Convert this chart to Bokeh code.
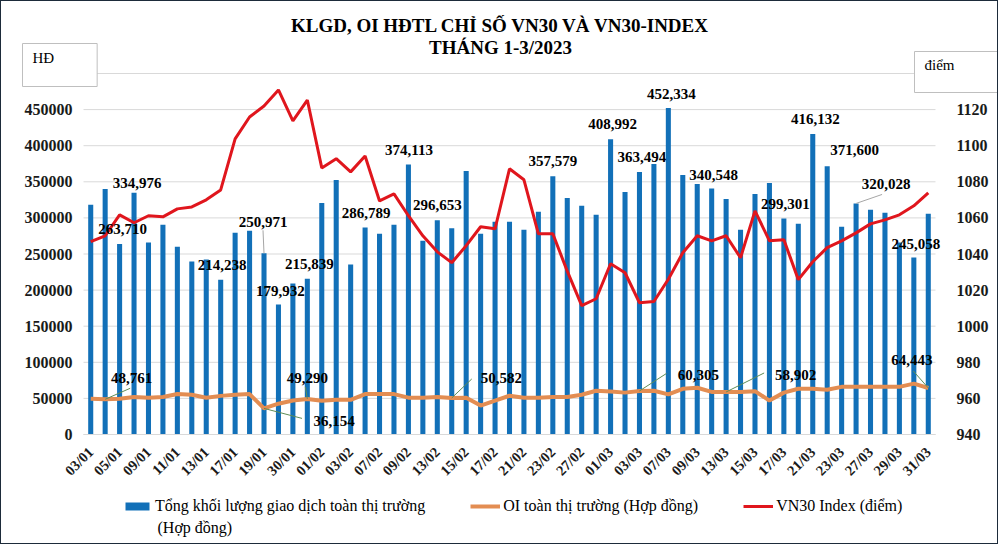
import math
from bokeh.plotting import figure
from bokeh.models import (Range1d, LinearAxis, FixedTicker, ColumnDataSource, Label,
                          Legend, LegendItem, NumeralTickFormatter)
from bokeh.core.properties import value
from bokeh.embed import file_html
from bokeh.resources import INLINE

# ---------------- data ----------------
DATES = ["03/01", "04/01", "05/01", "06/01", "09/01", "10/01", "11/01", "12/01", "13/01", "16/01",
         "17/01", "18/01", "19/01", "27/01", "30/01", "31/01",
         "01/02", "02/02", "03/02", "06/02", "07/02", "08/02", "09/02", "10/02", "13/02", "14/02",
         "15/02", "16/02", "17/02", "20/02", "21/02", "22/02", "23/02", "24/02", "27/02", "28/02",
         "01/03", "02/03", "03/03", "06/03", "07/03", "08/03", "09/03", "10/03", "13/03", "14/03",
         "15/03", "16/03", "17/03", "20/03", "21/03", "22/03", "23/03", "24/03", "27/03", "28/03",
         "29/03", "30/03", "31/03"]

VOLUME = [318100, 340000, 263710, 334976, 265800, 290500, 260000, 239600, 242400, 214238,
          279500, 282300, 250971, 179932, 209300, 215839,
          320800, 352500, 235500, 286789, 278000, 290500, 374113, 268500, 296653, 285500,
          365000, 278000, 294700, 294700, 283700, 308400, 357579, 327700, 316700, 304300,
          408992, 336000, 363494, 374500, 452334, 359400, 347000, 340548, 326300, 283700,
          333200, 348400, 299301, 292000, 416132, 371600, 287800, 320028, 311200, 307000,
          265800, 245058, 305700]

OI = [49500, 48761, 49500, 52000, 51000, 52000, 56000, 55000, 51000, 53500,
      55000, 56000, 36154, 42700, 47000, 49290,
      46800, 48000, 48000, 56000, 56000, 56000, 51000, 51000, 52000, 50582,
      51000, 40000, 47000, 53700, 51000, 51000, 52000, 52000, 55000, 60600,
      59500, 58000, 60305, 60600, 55500, 63300, 64700, 59000, 58902, 59000,
      60000, 47000, 58000, 63300, 63300, 62000, 66000, 66000, 66000, 66000,
      66000, 70500, 64443]

VN30 = [1046.8, 1050.1, 1061.7, 1057.3, 1061.2, 1060.6, 1065.0, 1066.1, 1070.0, 1075.5,
        1103.8, 1115.9, 1122.0, 1130.9, 1113.7, 1125.3,
        1087.7, 1092.8, 1085.5, 1094.3, 1069.4, 1073.3, 1061.2, 1050.1, 1041.2, 1035.2,
        1044.6, 1055.1, 1054.0, 1087.2, 1081.1, 1051.2, 1051.2, 1030.5, 1011.4, 1015.2,
        1034.6, 1029.6, 1013.0, 1013.7, 1026.0, 1040.7, 1050.1, 1047.3, 1050.1, 1037.9,
        1063.9, 1047.3, 1047.9, 1025.8, 1035.7, 1043.5, 1047.3, 1051.7, 1056.7, 1058.9,
        1061.7, 1066.7, 1073.9]

BAR_LABEL_IDX = [2, 3, 9, 12, 13, 15, 19, 22, 24, 32, 36, 38, 40, 43, 48, 50, 51, 53, 57]
OI_LABEL_IDX = [1, 12, 15, 25, 38, 44, 58]

LEFT_TICKS = [0, 50000, 100000, 150000, 200000, 250000, 300000, 350000, 400000, 450000, 500000]
RIGHT_TICKS = [940, 960, 980, 1000, 1020, 1040, 1060, 1080, 1100, 1120, 1140]

TITLE_1 = "KLGD, OI HĐTL CHỈ SỐ VN30 VÀ VN30-INDEX"
TITLE_2 = "THÁNG 1-3/2023"
LEFT_UNIT = "HĐ"
RIGHT_UNIT = "điểm"
SERIES = ["Tổng khối lượng giao dịch toàn thị trường", "OI toàn thị trường (Hợp đồng)",
          "VN30 Index (điểm)"]
SERIES_1_LINE2 = "(Hợp đồng)"

# ---------------- style / layout ----------------
W, H = 998, 544
PA_L, PA_R, PA_T, PA_B = 82, 934, 72, 433      # plot area on the canvas (px)
N = len(DATES)
Y_MAX, VN_MIN, VN_MAX = 500000, 940, 1140
PX_PER_X = (PA_R - PA_L) / N
Y_PER_PX = Y_MAX / (PA_B - PA_T)
VN_PER_PX = (VN_MAX - VN_MIN) / (PA_B - PA_T)

BLUE = "#1270b8"
ORANGE = "#e38d52"
RED = "#e0161d"
GRID = "#d9d9d9"
FONT = "Liberation Serif"

BAR_LABEL_OFF = {2: (3, -15), 3: (3, -10), 9: (1.5, -15), 12: (-1, -31), 13: (2, -14),
                 15: (2, -15), 19: (1, -14), 22: (0.5, -14), 24: (0, -15), 32: (0, -15),
                 36: (2, -15), 38: (2.5, -15), 40: (3, -14), 43: (2, -14), 48: (1.5, -14),
                 50: (2.5, -15), 51: (27.5, -16), 53: (30, -19), 57: (2, -14)}
BAR_LEADERS = {12: (-1, -23), 53: (26, -9)}
OI_LABEL_OFF = {1: (26.5, -21.5), 12: (70, 13), 15: (0, -21), 25: (49.7, -20),
                38: (59, -16), 44: (69.5, -16.7), 58: (-16.5, -27.7)}
OI_LEADERS = {1: (25, -11), 12: (38, 10), 15: (-2, -12), 25: (20, -19),
              38: (27, -17.5), 44: (38, -19), 58: (-15, -17)}

X0, X1 = -0.5, N - 0.5
p = figure(width=W, height=H, output_backend="svg", toolbar_location=None, title_location=None,
           x_range=Range1d(X0 - PA_L / PX_PER_X, X1 + (W - PA_R) / PX_PER_X),
           y_range=Range1d(-(H - PA_B) * Y_PER_PX, Y_MAX + PA_T * Y_PER_PX),
           min_border=0, outline_line_color=None,
           background_fill_color="white", border_fill_color="white")
p.styles = {"border": "1px solid #1d2b3a"}
p.extra_y_ranges = {"vn": Range1d(VN_MIN - (H - PA_B) * VN_PER_PX, VN_MAX + PA_T * VN_PER_PX)}
p.xgrid.visible = False
p.ygrid.visible = False

# axes (fixed at the plot-area edges)
xa = p.xaxis[0]
xa.fixed_location = 0
xa.bounds = (X0, X1)
xa.ticker = FixedTicker(ticks=list(range(0, N, 2)))
xa.major_label_overrides = {i: DATES[i] for i in range(N)}
xa.major_label_orientation = math.pi / 4
xa.axis_line_color = GRID
xa.major_tick_line_color = None
xa.minor_tick_line_color = None
xa.major_label_standoff = 9
xa.major_label_text_font = FONT
xa.major_label_text_font_style = "bold"
xa.major_label_text_font_size = "14.5px"
xa.major_label_text_color = "#1a1a1a"

ya = p.yaxis[0]
ya.fixed_location = X0
ya.bounds = (0, Y_MAX)
ya.ticker = FixedTicker(ticks=LEFT_TICKS)
ya.formatter = NumeralTickFormatter(format="0")
ya.major_label_overrides = {Y_MAX: ""}
ya.axis_line_color = None
ya.major_tick_line_color = None
ya.minor_tick_line_color = None
ya.major_label_standoff = 5
ya.major_label_text_font = FONT
ya.major_label_text_font_style = "bold"
ya.major_label_text_font_size = "16px"
ya.major_label_text_color = "#1a1a1a"

ra = LinearAxis(y_range_name="vn", ticker=FixedTicker(ticks=RIGHT_TICKS), fixed_location=X1,
                bounds=(VN_MIN, VN_MAX))
ra.major_label_overrides = {VN_MAX: ""}
ra.axis_line_color = None
ra.major_tick_line_color = None
ra.minor_tick_line_color = None
ra.major_label_standoff = 15
ra.major_label_text_font = FONT
ra.major_label_text_font_style = "bold"
ra.major_label_text_font_size = "16px"
ra.major_label_text_color = "#1a1a1a"
p.add_layout(ra, "right")

# horizontal gridlines at the left-axis ticks, across the plot area only
p.segment(x0=[X0] * len(LEFT_TICKS), x1=[X1] * len(LEFT_TICKS), y0=LEFT_TICKS, y1=LEFT_TICKS,
          line_color=GRID, line_width=1)

# series
src = ColumnDataSource(dict(x=list(range(N)), vol=VOLUME, oi=OI, vn=VN30))
bars = p.vbar(x="x", top="vol", width=0.35, source=src, fill_color=BLUE, line_color=None)
oi_line = p.line("x", "oi", source=src, line_color=ORANGE, line_width=4)
vn_line = p.line("x", "vn", source=src, y_range_name="vn", line_color=RED, line_width=3)

# leader lines
lx0, ly0, lx1, ly1, lc = [], [], [], [], []
for i, (dx, dy) in BAR_LEADERS.items():
    lx0.append(i); ly0.append(VOLUME[i])
    lx1.append(i + dx / PX_PER_X); ly1.append(VOLUME[i] - dy * Y_PER_PX); lc.append("#a6a6a6")
for i, (dx, dy) in OI_LEADERS.items():
    lx0.append(i); ly0.append(OI[i])
    lx1.append(i + dx / PX_PER_X); ly1.append(OI[i] - dy * Y_PER_PX); lc.append("#5e8c55")
p.segment(x0="x0", y0="y0", x1="x1", y1="y1", line_color="c", line_width=1,
          source=ColumnDataSource(dict(x0=lx0, y0=ly0, x1=lx1, y1=ly1, c=lc)))

# data labels
tx, ty, tt, tdx, tdy = [], [], [], [], []
for i in BAR_LABEL_IDX:
    dx, dy = BAR_LABEL_OFF[i]
    tx.append(i); ty.append(VOLUME[i]); tt.append(f"{VOLUME[i]:,}"); tdx.append(dx); tdy.append(dy)
for i in OI_LABEL_IDX:
    dx, dy = OI_LABEL_OFF[i]
    tx.append(i); ty.append(OI[i]); tt.append(f"{OI[i]:,}"); tdx.append(dx); tdy.append(dy)
p.text(x="x", y="y", text="t", x_offset="dx", y_offset="dy",
       source=ColumnDataSource(dict(x=tx, y=ty, t=tt, dx=tdx, dy=tdy)),
       text_font=value(FONT), text_font_style="bold", text_font_size="15px",
       text_align="center", text_baseline="middle", text_color="black")


# texts placed on the canvas (frame == canvas; screen units from bottom-left)
def canvas_label(cx, cy, text, **kw):
    return Label(x=cx, y=H - cy, x_units="screen", y_units="screen", text=text, **kw)


for lab in [
    canvas_label(499, 24, TITLE_1, text_align="center", text_baseline="middle",
                 text_font=FONT, text_font_style="bold", text_font_size="19px", text_color="black"),
    canvas_label(499, 46, TITLE_2, text_align="center", text_baseline="middle",
                 text_font=FONT, text_font_style="bold", text_font_size="19px", text_color="black"),
    canvas_label(21, 42, LEFT_UNIT, text_align="left", text_baseline="top",
                 text_font=FONT, text_font_size="15px", text_color="black",
                 background_fill_color="white", border_line_color="#bfbfbf",
                 padding=dict(left=10, right=43, top=6, bottom=21)),
    canvas_label(913, 50, RIGHT_UNIT, text_align="left", text_baseline="top",
                 text_font=FONT, text_font_size="15px", text_color="black",
                 background_fill_color="white", border_line_color="#bfbfbf",
                 padding=dict(left=10, right=50, top=5, bottom=20)),
    canvas_label(156, 526, SERIES_1_LINE2, text_align="left", text_baseline="middle",
                 text_font=FONT, text_font_size="16px", text_color="black"),
]:
    p.add_layout(lab)

# legend
legend = Legend(items=[LegendItem(label=SERIES[0], renderers=[bars]),
                       LegendItem(label=SERIES[1], renderers=[oi_line]),
                       LegendItem(label=SERIES[2], renderers=[vn_line])],
                location=(121, H - 514), orientation="horizontal",
                glyph_width=30, glyph_height=10, label_standoff=3, spacing=45,
                padding=0, margin=0, border_line_color=None, background_fill_alpha=0,
                label_text_font=FONT, label_text_font_size="16px", label_text_color="black")
p.add_layout(legend)

open("out.html", "w").write(file_html(p, INLINE))
